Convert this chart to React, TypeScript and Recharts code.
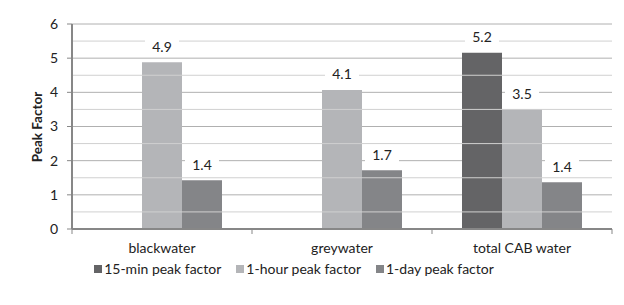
import React from 'react';
import { BarChart, Bar, XAxis, YAxis, CartesianGrid, ReferenceLine, LabelList, Label } from 'recharts';

const categories = ['blackwater', 'greywater', 'total CAB water'];
const min15 = [null, null, 5.16];
const hour1 = [4.88, 4.07, 3.51];
const day1 = [1.43, 1.72, 1.37];
const seriesNames = ['15-min peak factor', '1-hour peak factor', '1-day peak factor'];
const seriesColors = ['#646466', '#b4b5b8', '#848588'];
const yTicks = [0, 1, 2, 3, 4, 5, 6];
const minorLines = [0.5, 1.5, 2.5, 3.5, 4.5, 5.5];

const data = categories.map((c, i) => ({ name: c, m15: min15[i], h1: hour1[i], d1: day1[i] }));

const FONT = 'Lato, "Noto Sans", sans-serif';
const BAND = 180;

const ValueLabel = (props: any) => {
  const { x, y, width, value } = props;
  if (value === null || value === undefined) return null;
  const cx = x + width / 2;
  const cy = y - 16;
  return (
    <g>
      <rect x={cx - 17} y={cy - 8} width={34} height={16} fill="#ffffff" />
      <text x={cx} y={cy} textAnchor="middle" dominantBaseline="central" fontFamily={FONT} fontSize={14} fill="#222">
        {Number(value).toFixed(1)}
      </text>
    </g>
  );
};

const CatTick = (props: any) => {
  const { x, y, payload, index } = props;
  return (
    <g>
      <line x1={x - BAND / 2} x2={x - BAND / 2} y1={y - 18} y2={y - 13} stroke="#878787" strokeWidth={1} />
      {index === categories.length - 1 && (
        <line x1={x + BAND / 2} x2={x + BAND / 2} y1={y - 18} y2={y - 13} stroke="#878787" strokeWidth={1} />
      )}
      <text x={x} y={y} textAnchor="middle" dominantBaseline="central" fontFamily={FONT} fontSize={14} fill="#222">
        {payload.value}
      </text>
    </g>
  );
};

const LegendContent = () => (
  <div style={{ display: 'flex', justifyContent: 'center', fontFamily: FONT, fontSize: 14, color: '#222', lineHeight: '16px' }}>
    {seriesNames.map((n, i) => (
      <div key={n} style={{ display: 'flex', alignItems: 'center', marginRight: i < 2 ? 15 : 0 }}>
        <div style={{ width: 8, height: 8, background: seriesColors[i], marginRight: 2 }} />
        <span>{n}</span>
      </div>
    ))}
  </div>
);

export default function App() {
  return (
    <div style={{ position: 'relative', width: 624, height: 305, margin: -8, background: '#fff', overflow: 'hidden' }}>
      <BarChart
        width={624}
        height={305}
        data={data}
        margin={{ top: 24, right: 12, bottom: 46, left: 22 }}
        barCategoryGap={30}
        barGap={0}
      >
        <CartesianGrid vertical={false} stroke="#b0b0b0" horizontalValues={yTicks} />
        {minorLines.map((v) => (
          <ReferenceLine key={v} y={v} stroke="#d0d0d0" strokeWidth={1} />
        ))}
        <XAxis
          dataKey="name"
          height={30}
          axisLine={{ stroke: '#878787', strokeWidth: 2 }}
          tickLine={false}
          tick={<CatTick />}
          tickMargin={12}
          interval={0}
        />
        <YAxis
          domain={[0, 6]}
          ticks={yTicks}
          width={50}
          axisLine={{ stroke: '#878787', strokeWidth: 2 }}
          tickLine={{ stroke: '#878787' }}
          tickSize={5}
          tickMargin={9}
          tick={{ fontFamily: FONT, fontSize: 14, fill: '#222' }}
        >
          <Label
            content={() => (
              <text x={37} y={127} transform="rotate(-90 37 127)" textAnchor="middle" dominantBaseline="central" fontFamily={FONT} fontSize={13.5} fontWeight="bold" fill="#222">
                Peak Factor
              </text>
            )}
          />
        </YAxis>
        <Bar dataKey="m15" name={seriesNames[0]} fill={seriesColors[0]} isAnimationActive={false}>
          <LabelList dataKey="m15" content={<ValueLabel />} />
        </Bar>
        <Bar dataKey="h1" name={seriesNames[1]} fill={seriesColors[1]} isAnimationActive={false}>
          <LabelList dataKey="h1" content={<ValueLabel />} />
        </Bar>
        <Bar dataKey="d1" name={seriesNames[2]} fill={seriesColors[2]} isAnimationActive={false}>
          <LabelList dataKey="d1" content={<ValueLabel />} />
        </Bar>
      </BarChart>
      <div style={{ position: 'absolute', left: 0, width: 588, top: 261 }}>
        <LegendContent />
      </div>
      <div style={{ position: 'absolute', left: 7, top: 7, width: 1, height: 298, background: '#8a8a8a', zIndex: 5 }} />
      <div style={{ position: 'absolute', left: 7, top: 7, width: 617, height: 1, background: '#8a8a8a', zIndex: 5 }} />
    </div>
  );
}
